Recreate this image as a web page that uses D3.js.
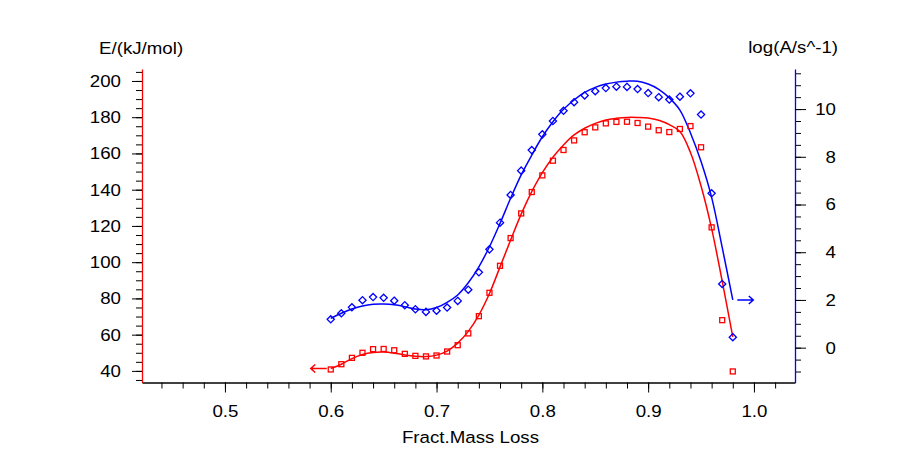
<!DOCTYPE html>
<html>
<head>
<meta charset="utf-8">
<script src="https://cdn.jsdelivr.net/npm/d3@7"></script>
<style>
  html, body { margin: 0; padding: 0; background: #fff; }
  text { font-family: "Liberation Sans", Arial, sans-serif; }
</style>
</head>
<body>
<svg id="chart" width="917" height="450"></svg>
<script>
// ---- data ----
const fractMassLoss = [0.60,0.61,0.62,0.63,0.64,0.65,0.66,0.67,0.68,0.69,0.70,0.71,0.72,0.73,0.74,0.75,0.76,0.77,0.78,0.79,0.80,0.81,0.82,0.83,0.84,0.85,0.86,0.87,0.88,0.89,0.90,0.91,0.92,0.93,0.94,0.95,0.96,0.97,0.98];
const energyPoints = [40.8,43.7,47.2,50.0,52.0,52.1,51.4,49.4,48.3,48.0,48.5,50.7,54.2,60.7,70.2,83.1,98.0,113.3,126.9,138.7,147.9,156.0,161.9,167.2,171.7,174.4,176.6,177.4,177.5,176.8,174.8,172.8,171.8,173.5,175.1,163.4,119.2,68.0,39.7];
const logAPoints = [1.19,1.44,1.69,1.99,2.12,2.09,1.97,1.78,1.61,1.50,1.55,1.68,1.96,2.43,3.16,4.12,5.24,6.40,7.42,8.28,8.94,9.50,9.93,10.29,10.57,10.75,10.88,10.94,10.93,10.84,10.67,10.50,10.40,10.52,10.66,9.77,6.47,2.67,0.44];
const energyFit = [41.3,43.7,46.8,49.1,50.2,50.4,49.8,48.8,48.1,47.9,48.7,50.9,55.3,61.8,70.8,82.7,97.4,112.2,126.5,138.9,149.4,157.9,164.7,170.2,173.9,176.6,178.5,179.4,179.9,179.9,179.6,178.3,175.9,172.1,160.5,142.0,118.5,89.5,58.8];
const logAFit = [1.23,1.44,1.62,1.75,1.82,1.83,1.80,1.72,1.62,1.59,1.68,1.90,2.21,2.72,3.39,4.23,5.21,6.26,7.24,8.07,8.84,9.47,9.99,10.38,10.70,10.91,11.05,11.13,11.17,11.17,11.05,10.83,10.47,9.96,9.00,7.80,6.30,4.20,2.00];

const xTicks = [0.5,0.6,0.7,0.8,0.9,1.0];
const xMinorTicks = d3.range(0.44, 1.03, 0.02);
const eTicks = [40,60,80,100,120,140,160,180,200];
const eMinorTicks = d3.range(35, 206, 5);
const aTicks = [0,2,4,6,8,10];
const aMinorTicks = d3.range(-1, 11.6, 0.5);

const xTitle = "Fract.Mass Loss";
const eTitle = "E/(kJ/mol)";
const aTitle = "log(A/s^-1)";

// ---- layout ----
const L = 142, R = 795, T = 69, B = 382.5;
const FS = 17, SX = 1.1;
const RED = "#ff0000", BLUE = "#0000ff";

const svg = d3.select("#chart");
svg.append("rect").attr("width", 917).attr("height", 450).attr("fill", "#fff");

const x = d3.scaleLinear().domain([0.4216, 1.0388]).range([L, R]);
const yE = d3.scaleLinear().domain([33.6, 206.6]).range([B, T]);
const yA = d3.scaleLinear().domain([-1.46, 11.68]).range([B, T]);

function stretch(sel) {
  sel.each(function () {
    const t = d3.select(this);
    const tx = +t.attr("x") || 0, ty = +t.attr("y") || 0;
    t.attr("x", null).attr("y", null)
     .attr("transform", `translate(${tx},${ty}) scale(${SX},1)`);
  });
}
function styleAxis(g, domainColor) {
  g.selectAll("text").attr("font-size", FS).attr("fill", "#000")
    .attr("font-family", '"Liberation Sans", Arial, sans-serif');
  g.selectAll(".tick line").attr("stroke", "#000").attr("stroke-width", 1);
  g.select(".domain").attr("stroke", domainColor).attr("stroke-width", 1.3);
  g.attr("font-family", null).attr("font-size", null);
}

// minor ticks
svg.append("g").attr("transform", `translate(0,${B})`)
  .call(d3.axisBottom(x).tickValues(xMinorTicks).tickSize(6).tickSizeOuter(0).tickFormat(""))
  .call(g => { g.select(".domain").remove(); g.selectAll("line").attr("stroke", "#000"); });
svg.append("g").attr("transform", `translate(${L},0)`)
  .call(d3.axisLeft(yE).tickValues(eMinorTicks).tickSize(6).tickSizeOuter(0).tickFormat(""))
  .call(g => { g.select(".domain").remove(); g.selectAll("line").attr("stroke", "#000"); });
svg.append("g").attr("transform", `translate(${R},0)`)
  .call(d3.axisRight(yA).tickValues(aMinorTicks).tickSize(6).tickSizeOuter(0).tickFormat(""))
  .call(g => { g.select(".domain").remove(); g.selectAll("line").attr("stroke", "#000"); });

// major axes
const gx = svg.append("g").attr("transform", `translate(0,${B})`)
  .call(d3.axisBottom(x).tickValues(xTicks).tickSize(10).tickSizeOuter(0).tickFormat(d3.format(".1f")));
styleAxis(gx, "#000");
gx.selectAll("text").attr("y", 34.5 - 0.71 * FS);
stretch(gx.selectAll("text"));

const gl = svg.append("g").attr("transform", `translate(${L},0)`)
  .call(d3.axisLeft(yE).tickValues(eTicks).tickSize(10).tickPadding(11).tickSizeOuter(0));
styleAxis(gl, RED);
stretch(gl.selectAll("text"));

const gr = svg.append("g").attr("transform", `translate(${R},0)`)
  .call(d3.axisRight(yA).tickValues(aTicks).tickSize(11).tickSizeOuter(0));
styleAxis(gr, BLUE);
gr.selectAll("text").attr("text-anchor", "end").attr("x", 41);
stretch(gr.selectAll("text"));

// titles
function title(txt, tx, ty, anchor) {
  svg.append("text").attr("transform", `translate(${tx},${ty}) scale(${SX},1)`)
    .attr("text-anchor", anchor).attr("font-size", FS).attr("fill", "#000").text(txt);
}
title(eTitle, 99, 54, "start");
title(aTitle, 838, 53, "end");
title(xTitle, (L + R) / 2 + 2, 443, "middle");

// fitted curves
const lineE = d3.line().x((d, i) => x(fractMassLoss[i])).y(d => yE(d)).curve(d3.curveCatmullRom.alpha(0.5));
const lineA = d3.line().x((d, i) => x(fractMassLoss[i])).y(d => yA(d)).curve(d3.curveCatmullRom.alpha(0.5));
svg.append("path").attr("d", lineE(energyFit)).attr("fill", "none").attr("stroke", RED).attr("stroke-width", 1.5);
svg.append("path").attr("d", lineA(logAFit)).attr("fill", "none").attr("stroke", BLUE).attr("stroke-width", 1.5);

// markers
svg.append("g").selectAll("rect").data(energyPoints).join("rect")
  .attr("x", (d, i) => x(fractMassLoss[i]) - 2.5).attr("y", d => yE(d) - 2.5)
  .attr("width", 5).attr("height", 5)
  .attr("fill", "none").attr("stroke", RED).attr("stroke-width", 1.3);
svg.append("g").selectAll("path").data(logAPoints).join("path")
  .attr("transform", (d, i) => `translate(${x(fractMassLoss[i])},${yA(d)})`)
  .attr("d", "M0,-3.6L3.6,0L0,3.6L-3.6,0Z")
  .attr("fill", "none").attr("stroke", BLUE).attr("stroke-width", 1.3);

// axis-indicating arrows at curve ends
function arrow(x0, x1, y, color) {
  const dir = Math.sign(x1 - x0);
  svg.append("path")
    .attr("d", `M${x0},${y}L${x1},${y}M${x1 - dir * 4.5},${y - 4}L${x1},${y}L${x1 - dir * 4.5},${y + 4}`)
    .attr("fill", "none").attr("stroke", color).attr("stroke-width", 1.5);
}
const eStartX = x(fractMassLoss[0]), eStartY = yE(energyFit[0]);
arrow(eStartX - 4, eStartX - 20, eStartY, RED);
const n = fractMassLoss.length - 1;
const aEndX = x(fractMassLoss[n]), aEndY = yA(logAFit[n]);
arrow(aEndX + 4.5, aEndX + 20.5, aEndY, BLUE);
</script>
</body>
</html>
